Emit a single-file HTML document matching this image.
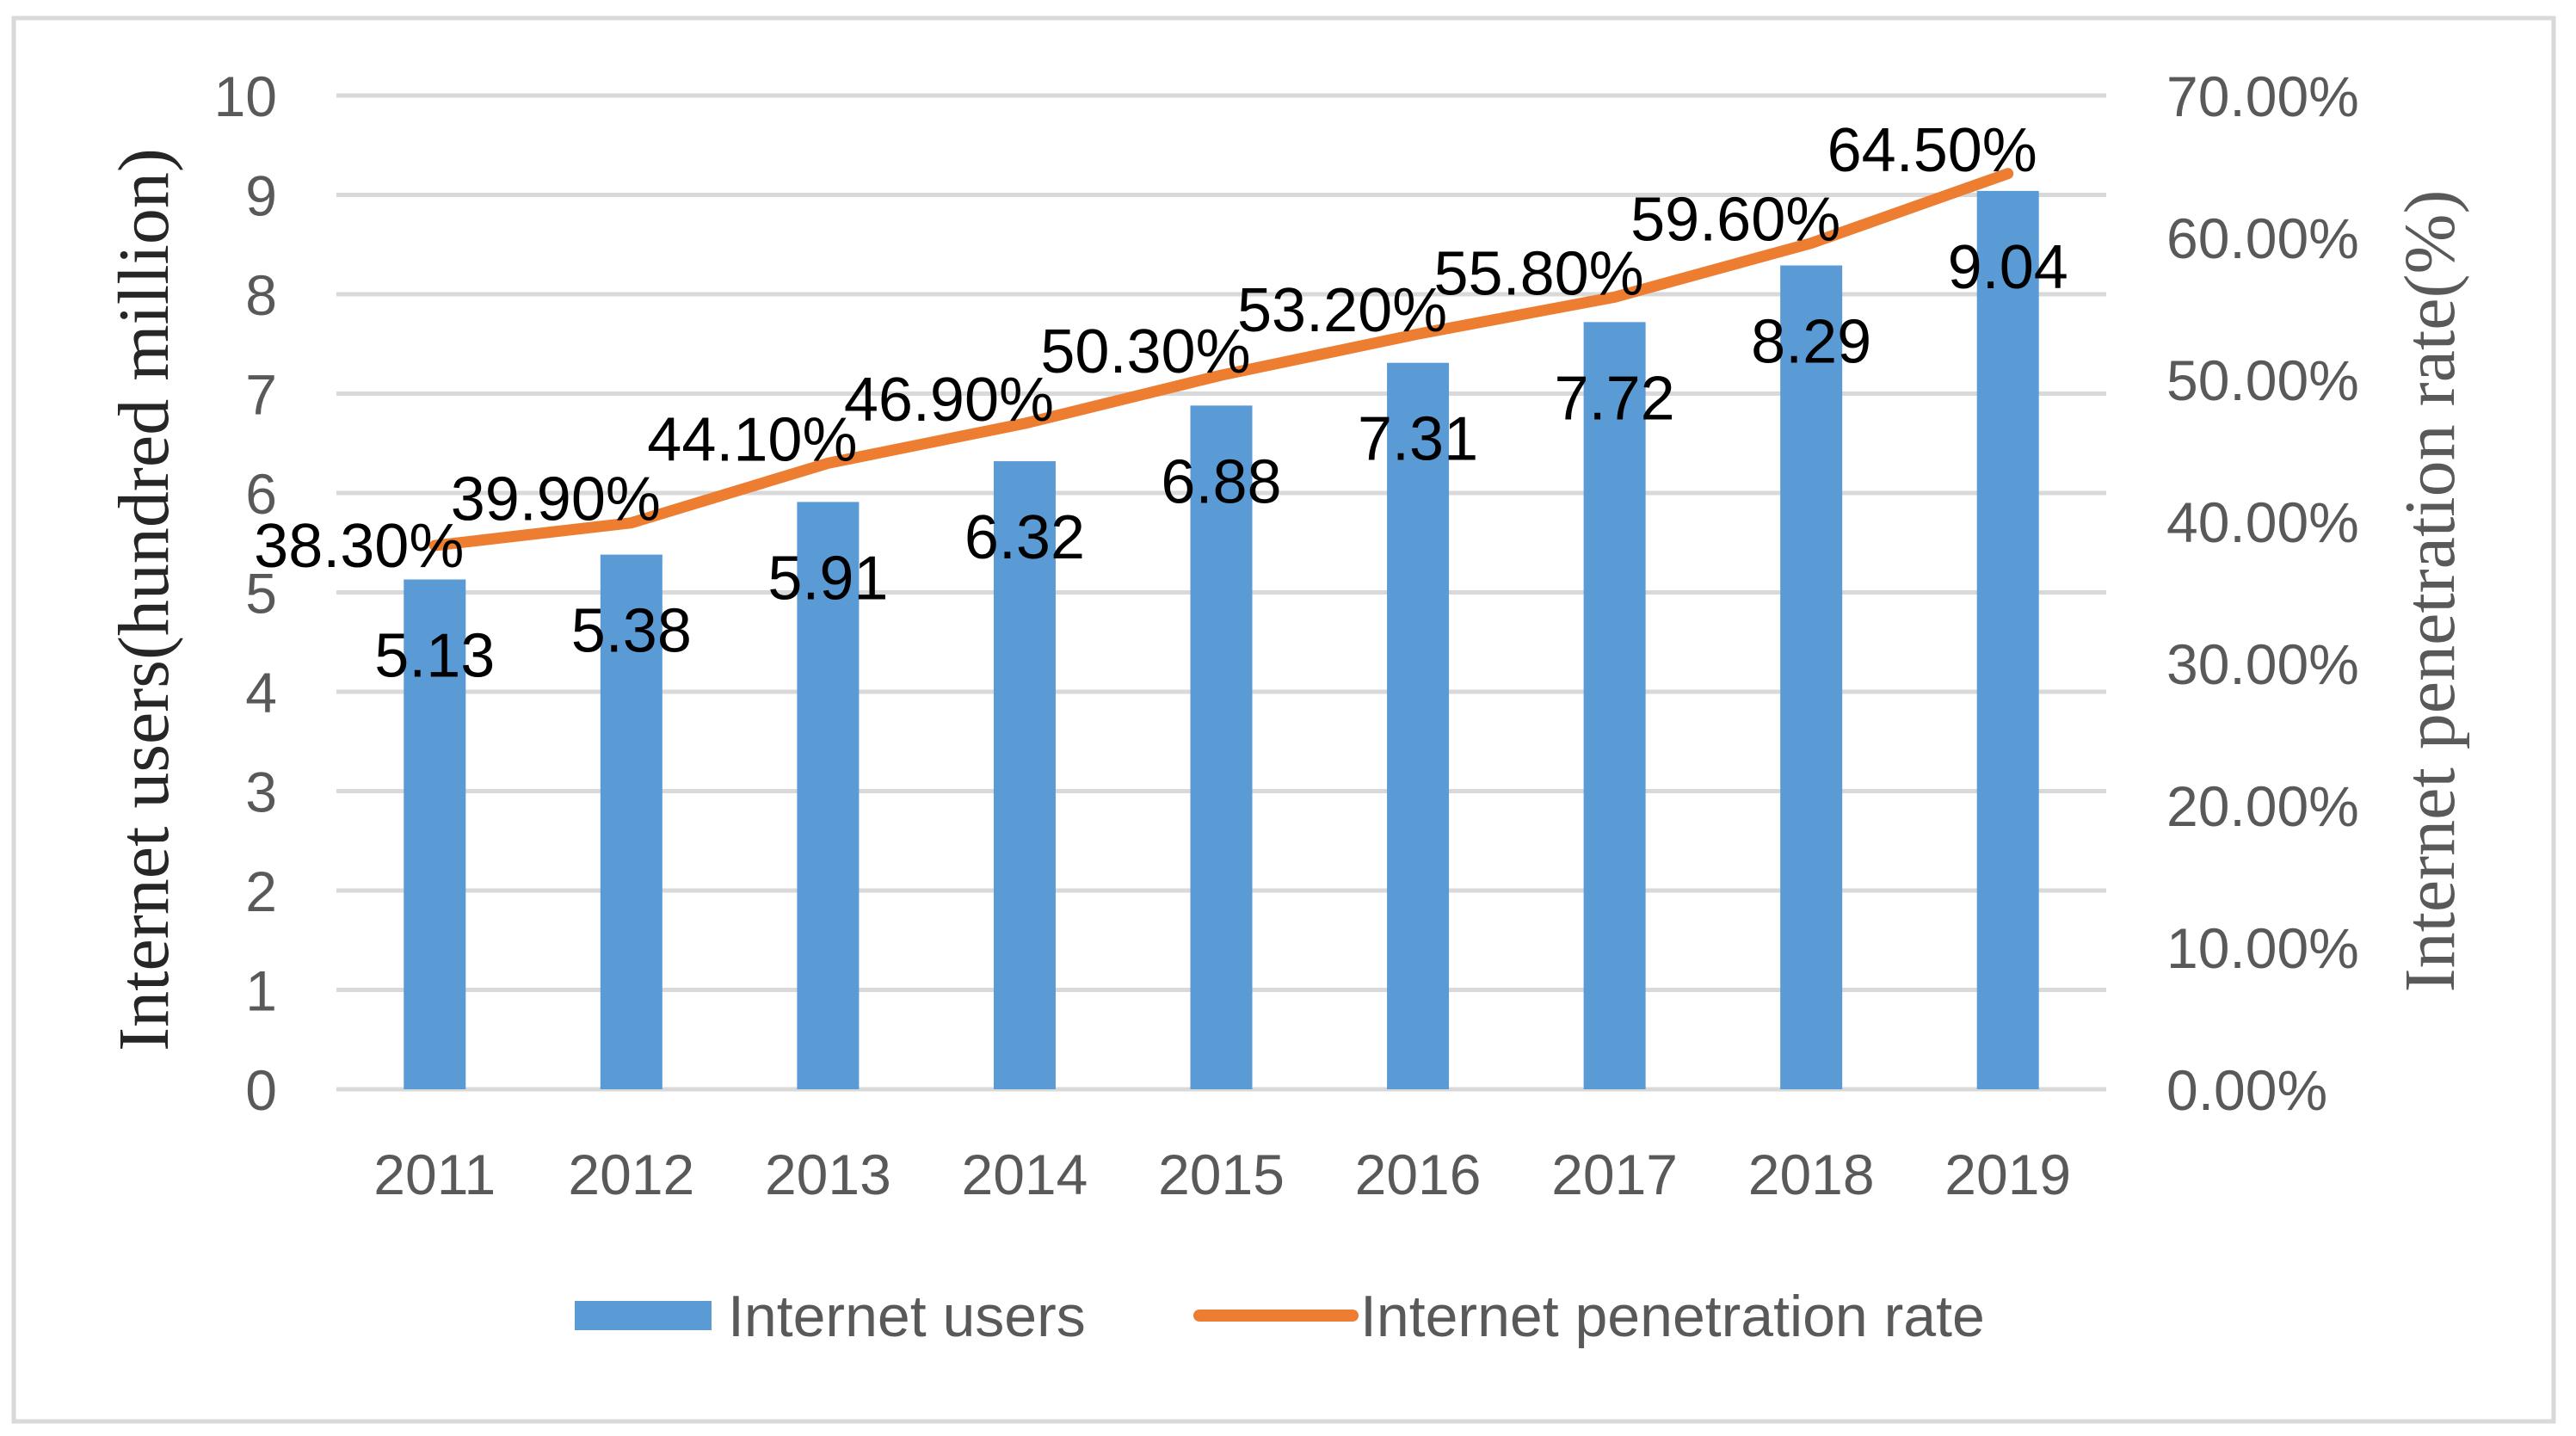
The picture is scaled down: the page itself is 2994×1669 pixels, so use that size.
<!DOCTYPE html>
<html><head><meta charset="utf-8"><style>
html,body{margin:0;padding:0;background:#fff;}
svg{display:block;}
text{font-family:"Liberation Sans",sans-serif;}
</style></head><body>
<svg id="chart" width="2994" height="1669" viewBox="0 0 2994 1669" xmlns="http://www.w3.org/2000/svg">
<rect x="16" y="21" width="2952" height="1631" fill="#fff" stroke="#d9d9d9" stroke-width="5"/>
<g id="grid"></g><g id="bars"></g><g id="line"></g><g id="labels"></g>
<text transform="translate(195,697) rotate(-90)" text-anchor="middle" style="font-family:'Liberation Serif',serif" font-size="84" fill="#262626">Internet  users(hundred million)</text>
<text transform="translate(2852,687) rotate(-90)" text-anchor="middle" style="font-family:'Liberation Serif',serif" font-size="84" fill="#595959">Internet penetration rate(%)</text>
<g>
<rect x="668" y="1512" width="159" height="34" fill="#5b9bd5"/>
<text x="846" y="1553" font-size="68" fill="#595959">Internet users</text>
<line x1="1394" y1="1529" x2="1572" y2="1529" stroke="#ed7d31" stroke-width="14" stroke-linecap="round"/>
<text x="1581" y="1553" font-size="68" fill="#595959">Internet penetration rate</text>
</g>
</svg>
<script>
const years=["2011","2012","2013","2014","2015","2016","2017","2018","2019"];
const users=[5.13,5.38,5.91,6.32,6.88,7.31,7.72,8.29,9.04];
const rate=[38.3,39.9,44.1,46.9,50.3,53.2,55.8,59.6,64.5];
const leftTicks=[0,1,2,3,4,5,6,7,8,9,10];
const rightTicks=[0,10,20,30,40,50,60,70];
const NS="http://www.w3.org/2000/svg";
const L=391,R=2448,T=111,B=1266;
const step=(R-L)/years.length;
const xc=i=>L+step*(i+0.5);
const yL=v=>B-(v/10)*(B-T);
const yR=v=>B-(v/70)*(B-T);
function mk(tag,attrs,parent,txt){const e=document.createElementNS(NS,tag);for(const k in attrs)e.setAttribute(k,attrs[k]);if(txt!==undefined)e.textContent=txt;parent.appendChild(e);return e;}
const grid=document.getElementById('grid'),bars=document.getElementById('bars'),line=document.getElementById('line'),labels=document.getElementById('labels');
const fs=66;
leftTicks.forEach(v=>{
 const g=mk('line',{x1:L,x2:R,y1:yL(v),y2:yL(v),stroke:'#d9d9d9','stroke-width':5},grid);
 
 
 const t=mk('text',{x:322,y:yL(v)+24,'text-anchor':'end','font-size':fs,fill:'#595959'},grid,String(v));
 
 
});
rightTicks.forEach(v=>{
 const t=mk('text',{x:2518,y:yR(v)+24,'font-size':fs,fill:'#595959'},grid,v.toFixed(2)+'%');
 
 
});
const bw=72;
years.forEach((y,i)=>{
 const b=mk('rect',{x:xc(i)-bw/2,y:yL(users[i]),width:bw,height:B-yL(users[i]),fill:'#5b9bd5'},bars);
 
 
 const t=mk('text',{x:xc(i),y:yL(users[i])+88+25,'text-anchor':'middle','font-size':72,fill:'#000'},labels,users[i].toFixed(2));
 
 
 const yt=mk('text',{x:xc(i),y:1388,'text-anchor':'middle','font-size':fs,fill:'#595959'},labels,y);
 
 
});
const pts=rate.map((r,i)=>xc(i)+','+yR(r)).join(' ');
const pl=mk('polyline',{points:pts,fill:'none',stroke:'#ed7d31','stroke-width':13,'stroke-linejoin':'round','stroke-linecap':'round'},line);


rate.forEach((r,i)=>{
 const dy=i===0?0:-28;
 const t=mk('text',{x:xc(i)-88,y:yR(r)+dy+25,'text-anchor':'middle','font-size':72,fill:'#000'},labels,r.toFixed(2)+'%');
 
 
});
</script>
</body></html>
